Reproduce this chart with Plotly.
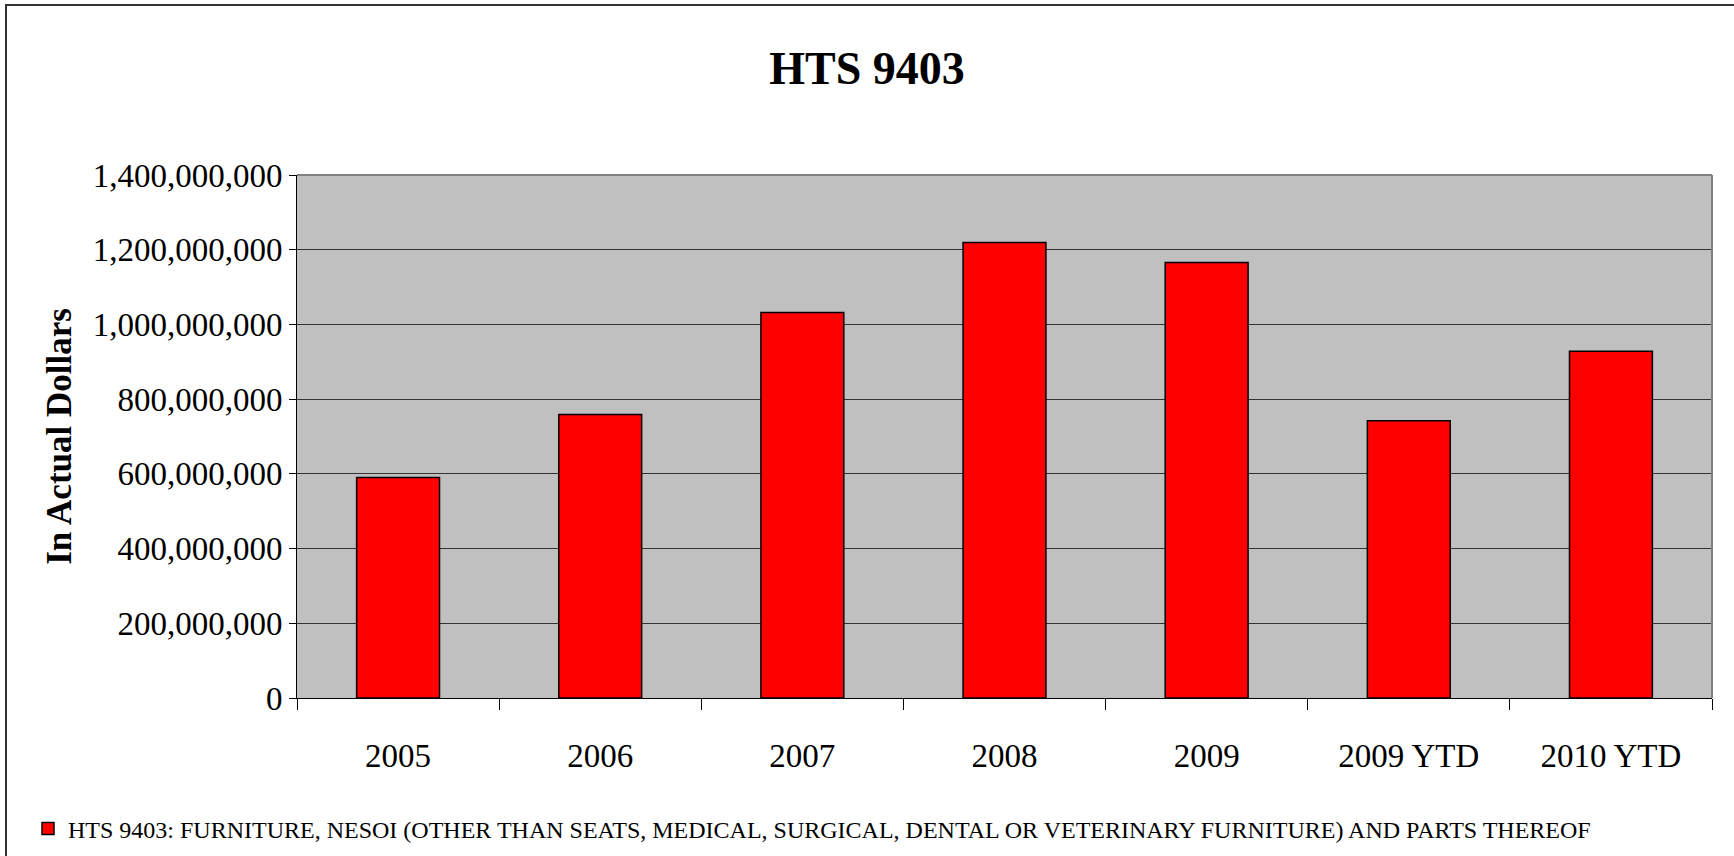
import plotly.graph_objects as go

# Import values by period (US dollars)
categories = ["2005", "2006", "2007", "2008", "2009", "2009 YTD", "2010 YTD"]
values = [590_000_000, 759_000_000, 1_032_000_000, 1_219_000_000,
          1_166_000_000, 742_000_000, 928_000_000]
series_name = ("HTS 9403: FURNITURE, NESOI (OTHER THAN SEATS, MEDICAL, SURGICAL, "
               "DENTAL OR VETERINARY FURNITURE) AND PARTS THEREOF")
y_ticks = [0, 200_000_000, 400_000_000, 600_000_000, 800_000_000,
           1_000_000_000, 1_200_000_000, 1_400_000_000]

W, H = 1734, 856
ML, MR, MT, MB = 297, 22, 175, 158
PW, PH = W - ML - MR, H - MT - MB
FONT = "Liberation Serif, Times New Roman, serif"


def px_x(x):
    return (x - ML) / PW


def px_y(y):
    return (H - MB - y) / PH


fig = go.Figure()
fig.add_trace(go.Bar(
    x=categories,
    y=values,
    name=series_name,
    marker=dict(color="#FF0000", line=dict(color="#000000", width=1.5)),
    showlegend=True,
))

fig.update_layout(
    width=W,
    height=H,
    margin=dict(l=ML, r=MR, t=MT, b=MB, pad=0),
    paper_bgcolor="#FFFFFF",
    plot_bgcolor="#C0C0C0",
    font=dict(family=FONT, color="#000000", size=33),
    bargap=0.59,
    title=dict(
        text="<b>HTS 9403</b>",
        font=dict(family=FONT, size=46, color="#000000"),
        x=0.5, xref="container", xanchor="center",
        y=1 - 68 / H, yref="container", yanchor="middle",
    ),
    legend=dict(
        orientation="h",
        xref="container", x=28 / W, xanchor="left",
        yref="container", y=1 - 829 / H, yanchor="middle",
        font=dict(family=FONT, size=24, color="#000000"),
        bgcolor="rgba(0,0,0,0)",
        itemwidth=30,
    ),
    xaxis=dict(
        type="category",
        showline=True, linecolor="#000000", linewidth=1,
        ticks="outside", ticklen=11, tickcolor="#000000", tickwidth=1,
        tickson="boundaries",
        ticklabelstandoff=28,
        tickfont=dict(family=FONT, size=33),
        showgrid=False,
    ),
    yaxis=dict(
        range=[0, 1_400_000_000],
        tickvals=y_ticks,
        tickformat=",d",
        showline=True, linecolor="#000000", linewidth=1,
        ticks="outside", ticklen=7, tickcolor="#000000", tickwidth=1,
        tickfont=dict(family=FONT, size=33),
        showgrid=True, gridcolor="#333333", gridwidth=1,
        zeroline=False,
        title=dict(
            text="<b>In Actual Dollars</b>",
            font=dict(family=FONT, size=35),
            standoff=10,
        ),
    ),
    shapes=[
        # grey frame on the top and right of the plotting area
        dict(type="line", xref="paper", yref="paper", x0=0, x1=1, y0=1, y1=1,
             line=dict(color="#808080", width=2)),
        dict(type="line", xref="paper", yref="paper", x0=1, x1=1, y0=0, y1=1,
             line=dict(color="#808080", width=2)),
        # outer chart frame (top and left edges)
        dict(type="line", xref="paper", yref="paper",
             x0=px_x(5), x1=px_x(W), y0=px_y(5), y1=px_y(5),
             line=dict(color="#333333", width=2)),
        dict(type="line", xref="paper", yref="paper",
             x0=px_x(6), x1=px_x(6), y0=px_y(5), y1=px_y(H),
             line=dict(color="#333333", width=2)),
    ],
)

fig.write_html("out.html")
